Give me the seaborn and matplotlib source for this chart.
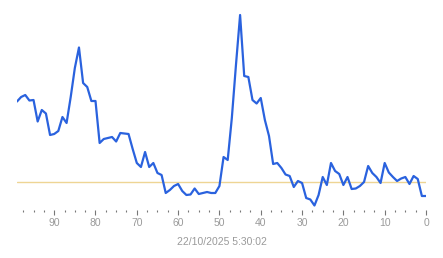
import matplotlib
matplotlib.use("Agg")
import matplotlib.pyplot as plt
from matplotlib.ticker import MultipleLocator
import seaborn as sns
import pandas as pd

# minutes ago (left = oldest, right = now)
minutes_ago = list(range(99, -1, -1))
values = [
    108.5, 113, 115, 109.5, 110, 88.5, 100, 96.5, 75, 76,
    79, 93, 87, 113, 142, 162.5, 127, 123, 109, 109,
    67, 71, 72, 73, 68.5, 77, 76.5, 76, 61, 47,
    43, 58, 43, 47, 37, 35, 17, 20, 24, 26,
    19, 15, 15.5, 21.5, 16, 17, 18, 17, 17, 24,
    53, 50, 92, 145, 195, 134, 133, 110, 106.5, 112,
    90, 74, 46, 47, 42, 35.5, 34, 23, 29, 27,
    12, 10.5, 4.5, 15, 33, 25, 47, 39, 36, 25,
    33, 21, 21.5, 24, 28, 44, 37, 33, 27, 47,
    37.5, 33, 29, 31.5, 33, 26, 34, 31, 14, 14,
]
reference_level = 28
major_ticks = [90, 80, 70, 60, 50, 40, 30, 20, 10, 0]
x_label = "22/10/2025 5:30:02"

df = pd.DataFrame({"minutes_ago": minutes_ago, "value": values})

sns.set_style("white")
plt.rcParams["font.family"] = ["Liberation Sans", "DejaVu Sans"]

W, H = 443, 258
fig = plt.figure(figsize=(W / 100, H / 100), dpi=100)
left_px, right_px, top_px, bottom_px = 17, 426, 10, 210
ax = fig.add_axes([left_px / W, 1 - bottom_px / H,
                   (right_px - left_px) / W, (bottom_px - top_px) / H])

ax.axhline(reference_level, color="#eed594", lw=1.0, zorder=1)
sns.lineplot(data=df, x="minutes_ago", y="value", ax=ax,
             color="#2a62de", lw=1.6, zorder=3)

ax.set_xlim(99, 0)
ax.set_ylim(0, 200)
for s in ax.spines.values():
    s.set_visible(False)
ax.set_yticks([])
ax.set_xticks(major_ticks)
ax.set_xticklabels([str(t) for t in major_ticks])
ax.xaxis.set_minor_locator(MultipleLocator(2.5))
ax.tick_params(axis="x", which="major", direction="out", length=3.5, width=0.8,
               color="#777777", labelsize=7.5, labelcolor="#9a9a9a", pad=2.5,
               bottom=True)
ax.tick_params(axis="x", which="minor", direction="out", length=1.5, width=0.8,
               color="#777777", bottom=True)
ax.set_ylabel("")
ax.set_xlabel(x_label, fontsize=7.5, color="#9a9a9a", labelpad=6)
ax.grid(False)

fig.savefig("out.png", dpi=100)
